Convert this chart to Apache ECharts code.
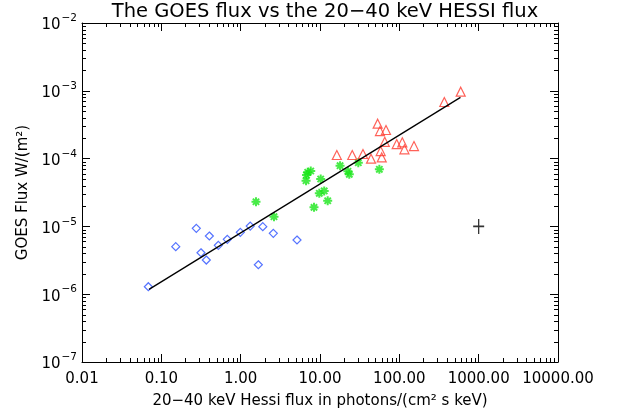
<!DOCTYPE html>
<html><head><meta charset="utf-8">
<script src="https://cdn.jsdelivr.net/npm/echarts@6/dist/echarts.min.js"></script>
<style>html,body{margin:0;padding:0;background:#fff}#c{width:618px;height:417px}</style>
</head><body><div id="c"></div>
<script>
// ---- text ----
const chartTitle = 'The GOES flux vs the 20\u221240 keV HESSI flux';
const xAxisTitle = '20\u221240 keV Hessi flux in photons/(cm\u00B2 s keV)';
const yAxisTitle = 'GOES Flux W/(m\u00B2)';

// ---- axis ranges ----
const X_MIN = 0.01, X_MAX = 10000;
const Y_MIN = 1e-7, Y_MAX = 1e-2;
const minorMultipliers = [2, 3, 4, 5, 6, 7, 8, 9];
const xDecades = [0.01, 0.1, 1, 10, 100, 1000];
const yDecades = [1e-7, 1e-6, 1e-5, 1e-4, 1e-3];

// ---- data: blue diamonds ----
const blueX = [0.0686, 0.152, 0.276, 0.403, 0.316, 0.369, 0.523, 0.679, 0.99, 1.32, 1.90, 2.58, 1.67, 5.13];
const blueY = [1.29e-6, 5.02e-6, 9.37e-6, 7.22e-6, 4.09e-6, 3.19e-6, 5.26e-6, 6.45e-6, 8.18e-6, 1.01e-5, 9.9e-6, 7.91e-6, 2.72e-6, 6.3e-6];

// ---- data: green asterisks ----
const greenX = [1.56, 2.63, 6.67, 7.0, 7.64, 6.76, 10.2, 9.8, 11.3, 12.5, 8.4, 17.9, 23.4, 22.5, 30.4, 56];
const greenY = [2.31e-5, 1.39e-5, 4.72e-5, 6.28e-5, 6.56e-5, 5.73e-5, 5.0e-5, 3.08e-5, 3.33e-5, 2.39e-5, 1.91e-5, 7.85e-5, 5.86e-5, 6.5e-5, 8.7e-5, 6.95e-5];

// ---- data: red triangles ----
const redX = [594, 369, 53.3, 57, 67.9, 65.5, 92.7, 109, 116, 153, 58.2, 60, 25.5, 34.8, 44, 16.3];
const redY = [9.7e-4, 6.84e-4, 3.27e-4, 2.55e-4, 2.64e-4, 1.77e-4, 1.64e-4, 1.74e-4, 1.37e-4, 1.53e-4, 1.29e-4, 1.04e-4, 1.13e-4, 1.17e-4, 9.97e-5, 1.13e-4];

// ---- fit line ----
const fitX = [0.07, 590];
const fitY = [1.18e-6, 8.0e-4];

// ---- reference cross ----
const crossX = [1000];
const crossY = [1e-5];

const zip = (a, b) => a.map((v, i) => [v, b[i]]);

const xMinor = [];
xDecades.forEach(d => minorMultipliers.forEach(m => xMinor.push([d * m, Y_MIN])));
const yMinor = [];
yDecades.forEach(d => minorMultipliers.forEach(m => yMinor.push([X_MIN, d * m])));

const FONT = 'DejaVu Sans';
const asterisk = 'path://M0,-10L0,10M-10,0L10,0M-7,-7L7,7M-7,7L7,-7';
const plusPath = 'path://M0,-10L0,10M-10,0L10,0';

const chart = echarts.init(document.getElementById('c'), null, {renderer: 'canvas'});

function axisCommon() {
  return {
    type: 'log', logBase: 10,
    axisLine: {show: true, onZero: false, lineStyle: {color: '#000', width: 1}},
    axisTick: {show: true, inside: true, length: 8, lineStyle: {color: '#000', width: 1}},
    splitLine: {show: false},
    minorTick: {show: false}
  };
}

function crisp(v) { return Math.round(v) + 0.5; }

function expLabel(v) {
  const e = Math.round(Math.log10(v));
  return '{b|10}{e|' + (e < 0 ? '\u2212' + (-e) : String(e)) + '}';
}

chart.setOption({
  animation: false,
  backgroundColor: '#fff',
  title: {
    text: chartTitle, left: 320, top: -3, textAlign: 'center',
    textStyle: {fontFamily: FONT, fontSize: 19.5, fontWeight: 'normal', color: '#000'}
  },
  grid: {left: 82, right: 60, top: 23, bottom: 55, containLabel: false},
  xAxis: [
    Object.assign(axisCommon(), {
      position: 'bottom', min: X_MIN, max: X_MAX,
      name: xAxisTitle, nameLocation: 'middle', nameGap: 32,
      nameTextStyle: {fontFamily: FONT, fontSize: 15, color: '#000'},
      axisLabel: {
        show: true, margin: 10, fontFamily: FONT, fontSize: 15, color: '#000',
        formatter: v => Number(v).toFixed(2)
      }
    }),
    Object.assign(axisCommon(), {
      position: 'top', min: X_MIN, max: X_MAX, axisLabel: {show: false}
    })
  ],
  yAxis: [
    Object.assign(axisCommon(), {
      position: 'left', min: Y_MIN, max: Y_MAX,
      name: yAxisTitle, nameLocation: 'middle', nameGap: 50, nameRotate: 90,
      nameTextStyle: {fontFamily: FONT, fontSize: 15, color: '#000'},
      axisLabel: {
        show: true, margin: 5, fontFamily: FONT, fontSize: 15, color: '#000',
        formatter: expLabel,
        rich: {
          b: {fontFamily: FONT, fontSize: 15, lineHeight: 20, color: '#000', verticalAlign: 'bottom'},
          e: {fontFamily: FONT, fontSize: 10.5, lineHeight: 10, color: '#000', verticalAlign: 'top', padding: [0, 0, 0, 1]}
        }
      }
    }),
    Object.assign(axisCommon(), {
      position: 'right', min: Y_MIN, max: Y_MAX, axisLabel: {show: false}
    })
  ],
  series: [
    {
      type: 'custom', silent: true, xAxisIndex: 0, yAxisIndex: 0, z: 5,
      data: xMinor,
      renderItem: (params, api) => {
        const v = api.value(0);
        const b = api.coord([v, Y_MIN]);
        const t = api.coord([v, Y_MAX]);
        const x = crisp(b[0]);
        return {type: 'group', children: [
          {type: 'line', shape: {x1: x, y1: b[1], x2: x, y2: b[1] - 4}, style: {stroke: '#000', lineWidth: 1}},
          {type: 'line', shape: {x1: x, y1: t[1], x2: x, y2: t[1] + 4}, style: {stroke: '#000', lineWidth: 1}}
        ]};
      }
    },
    {
      type: 'custom', silent: true, xAxisIndex: 0, yAxisIndex: 0, z: 5,
      data: yMinor,
      renderItem: (params, api) => {
        const v = api.value(1);
        const l = api.coord([X_MIN, v]);
        const r = api.coord([X_MAX, v]);
        const y = crisp(l[1]);
        return {type: 'group', children: [
          {type: 'line', shape: {x1: l[0], y1: y, x2: l[0] + 4, y2: y}, style: {stroke: '#000', lineWidth: 1}},
          {type: 'line', shape: {x1: r[0], y1: y, x2: r[0] - 4, y2: y}, style: {stroke: '#000', lineWidth: 1}}
        ]};
      }
    },
    {
      name: 'fit', type: 'line', data: zip(fitX, fitY), showSymbol: false, symbol: 'none',
      lineStyle: {color: '#000', width: 1.3}, z: 3
    },
    {
      name: 'blue', type: 'scatter', data: zip(blueX, blueY), symbol: 'diamond', symbolSize: 8,
      itemStyle: {color: 'rgba(0,0,0,0)', borderColor: '#2a50ff', borderWidth: 1.2}
    },
    {
      name: 'green', type: 'scatter', data: zip(greenX, greenY), symbol: asterisk, symbolSize: 9,
      itemStyle: {color: 'rgba(0,0,0,0)', borderColor: '#19e619', borderWidth: 2}
    },
    {
      name: 'red', type: 'scatter', data: zip(redX, redY), symbol: 'triangle', symbolSize: 9,
      itemStyle: {color: 'rgba(0,0,0,0)', borderColor: '#ff3b30', borderWidth: 1.2}
    },
    {
      name: 'cross', type: 'scatter', data: zip(crossX, crossY), symbol: plusPath, symbolSize: [11, 15],
      itemStyle: {color: 'rgba(0,0,0,0)', borderColor: '#000', borderWidth: 1.5}
    }
  ]
});
</script>
</body></html>
